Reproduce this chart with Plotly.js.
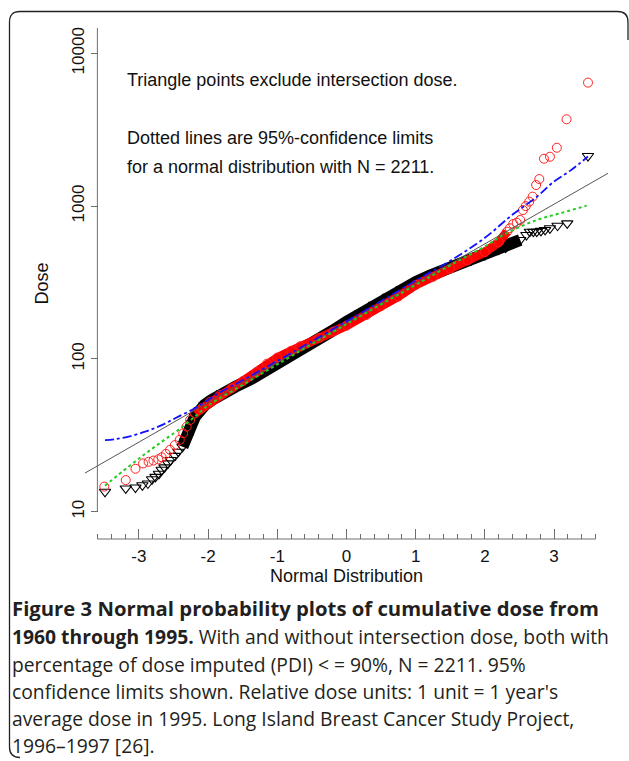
<!DOCTYPE html>
<html>
<head>
<meta charset="utf-8">
<script src="https://cdn.plot.ly/plotly-3.0.1.min.js"></script>
<style>
html,body{margin:0;padding:0;background:#fff;}
#chart{width:629px;height:761px;}
</style>
</head>
<body>
<div id="chart"></div>
<script>
// ---------- data ----------
// Normal quantiles (x) and dose (y), without intersection dose (triangles)
const blackZ = [-3.49,-3.19,-3.05,-2.95,-2.87,-2.81,-2.76,-2.71,-2.67,-2.63,-2.58,-2.54,-2.48,-2.43,-2.37,-2.33,-2.29,-2.26,-2.23,-2.19,-2.12,-2.05,-1.95,-1.8,-1.6,-1.4,-1.2,-1.0,-0.8,-0.6,-0.4,-0.2,0,0.2,0.4,0.6,0.8,1.0,1.2,1.4,1.6,1.8,2.0,2.2,2.3,2.41,2.51,2.6,2.65,2.70,2.75,2.81,2.87,2.94,3.05,3.19,3.49];
const blackDose = [13.5,14.2,14.4,14.9,15.3,16.3,16.9,17.7,18.8,19.5,20.7,21.8,23.2,24.7,26.6,28.7,31.0,34.3,37.9,41.9,46.3,49.9,53.8,59.6,66,73,82,93,105,118,134,153,175,199,226,255,286,318,350,380,410,442,478,520,535,571,600,647,680,680,680,688,698,716,744,771,2128];
// With intersection dose (circles)
const redZ = [-3.50,-3.19,-3.05,-2.94,-2.86,-2.79,-2.72,-2.67,-2.61,-2.55,-2.48,-2.41,-2.36,-2.31,-2.26,-2.19,-2.09,-1.97,-1.83,-1.66,-1.5,-1.3,-1.15,-1.0,-0.8,-0.67,-0.4,-0.19,0,0.29,0.5,0.75,1.0,1.25,1.5,1.75,2.0,2.2,2.32,2.36,2.41,2.46,2.51,2.55,2.59,2.64,2.69,2.74,2.786,2.854,2.94,3.04,3.18,3.49];
const redDose = [14.6,16.1,19.1,20.7,21.2,21.6,22.0,22.7,23.9,25.4,27.3,29.5,32.6,36.0,39.8,44.0,47.5,52.5,58.0,64.2,71.5,82,93,102,113,121,137,151,165,194,222,256,305,345,390,440,500,580,680,716,764,778,811,942,1000,1069,1153,1374,1503,2042,2105,2410,3700,6430];
// 95% confidence limits
const upperZ = [-3.49,-3.35,-3.15,-2.91,-2.67,-2.43,-2.19,-2.0,-1.85,-1.5,-1.0,0,1.0,1.54,2.0,2.4,2.75,3.0,3.23,3.49];
const upperDose = [29.4,29.8,31,33.4,36.9,41.9,47.5,53.8,59.6,72.5,97,176,325,450,620,880,1150,1450,1700,2110];
const lowerZ = [-3.49,-3.15,-2.91,-2.67,-2.43,-2.19,-2.0,-1.5,-1.0,0,1.0,1.5,2.0,2.315,2.75,3.1,3.47];
const lowerDose = [14.8,19.7,23.9,28.7,34.3,41.9,49.5,67.5,92,169,305,410,545,664,811,900,1007];
// reference line (ends of the fitted normal line)
const refZ = [-3.779, 3.779];
const refDose = [17.9, 1640];
// axis ticks
const xTicks = [-3,-2,-1,0,1,2,3];
const xTickText = ["-3","-2","-1","0","1","2","3"];
const yTicks = [10,100,1000,10000];
const yTickText = ["10","100","1000","10000"];
// which points form the dense (overplotted) band
const blackBand = [14, 47];
const redBand = [15, 39];

// ---------- layout geometry ----------
const W = 629, H = 761, ML = 85, MR = 21, MT = 28, MB = 222;
const PW = W - ML - MR, PH = H - MT - MB;
const px = X => (X - ML) / PW;
const py = Y => (H - MB - Y) / PH;
const yRange = [0.8213, 4.1656];
const FONT = '"Liberation Sans", Arial, sans-serif';
const CAP = '"Open Sans", sans-serif';
const axisCol = '#6e6e6e';

const traces = [
  {x: blackZ.slice(blackBand[0], blackBand[1]), y: blackDose.slice(blackBand[0], blackBand[1]), mode: 'lines', line: {color: '#000', width: 12}, hoverinfo: 'skip'},
  {x: blackZ, y: blackDose, mode: 'markers', marker: {symbol: 'triangle-down-open', size: 10, color: '#000', line: {width: 1.1, color: '#000'}}},
  {x: redZ.slice(redBand[0], redBand[1]), y: redDose.slice(redBand[0], redBand[1]), mode: 'lines', line: {color: '#ff0000', width: 9}, hoverinfo: 'skip'},
  {x: redZ, y: redDose, mode: 'markers', marker: {symbol: 'circle-open', size: 9, color: '#ff2020', line: {width: 1, color: '#ff2020'}}},
  {x: refZ, y: refDose, mode: 'lines', line: {color: '#555', width: 1}},
  {x: lowerZ, y: lowerDose, mode: 'lines', line: {color: '#22cc22', width: 2, dash: 'dot', shape: 'spline'}},
  {x: upperZ, y: upperDose, mode: 'lines', line: {color: '#1010ff', width: 1.8, dash: 'dashdot', shape: 'spline'}}
];

const caption = [
  '<b>Figure 3 Normal probability plots of cumulative dose from</b>',
  '<b>1960 through 1995.</b> With and without intersection dose, both with',
  'percentage of dose imputed (PDI) &lt; = 90%, N = 2211. 95%',
  'confidence limits shown. Relative dose units: 1 unit = 1 year\'s',
  'average dose in 1995. Long Island Breast Cancer Study Project,',
  '1996–1997 [26].'
];
const capY = [608, 636, 664, 691, 718, 745];
const capSize = [20.3, 19.3, 19.3, 19.3, 19.3, 19.3];

const annotations = [
  {text: 'Triangle points exclude intersection dose.', x: px(125), y: py(80)},
  {text: 'Dotted lines are 95%-confidence limits', x: px(125), y: py(138)},
  {text: 'for a normal distribution with N = 2211.', x: px(125), y: py(167)}
].map(a => Object.assign(a, {xref: 'paper', yref: 'paper', xanchor: 'left', yanchor: 'middle', showarrow: false, font: {family: FONT, size: 18, color: '#111'}}));
caption.forEach((t, i) => annotations.push({text: t, x: px(10), y: py(capY[i]), xref: 'paper', yref: 'paper', xanchor: 'left', yanchor: 'middle', showarrow: false, font: {family: CAP, size: capSize[i], color: '#231f20'}}));

function pth(pts) { return pts.map(p => p[0] + ' ' + px(p[1]).toFixed(5) + ',' + py(p[2]).toFixed(5)).join(' '); }
const border = pth([['M',628,40],['L',628,22],['Q',628,11.5],['',617.5,11.5],['L',20,11.5],['Q',9.5,11.5],['',9.5,22],['L',9.5,747],['Q',9.5,757.5],['',20,757.5]]);

const layout = {
  width: W, height: H,
  margin: {l: ML, r: MR, t: MT, b: MB, pad: 0},
  paper_bgcolor: '#fff', plot_bgcolor: '#fff',
  showlegend: false,
  font: {family: FONT, color: '#111'},
  xaxis: {
    range: [refZ[0], refZ[1]], showgrid: false, zeroline: false, showline: false,
    ticks: 'inside', ticklen: 10, tickwidth: 1, tickcolor: axisCol,
    tickmode: 'array', tickvals: xTicks, ticktext: xTickText, ticklabelstandoff: 5,
    tickfont: {family: FONT, size: 17, color: '#111'},
    minor: {dtick: 0.2, tick0: 0, ticks: 'inside', ticklen: 5, tickwidth: 1, tickcolor: axisCol, showgrid: false},
    title: {text: 'Normal Distribution', font: {family: FONT, size: 18, color: '#111'}, standoff: 4},
    automargin: false
  },
  yaxis: {
    type: 'log', range: yRange, anchor: 'free', position: px(98),
    showgrid: false, zeroline: false, showline: false,
    ticks: 'outside', ticklen: 7, tickwidth: 1, tickcolor: axisCol,
    tickmode: 'array', tickvals: yTicks, ticktext: yTickText, tickangle: -90,
    tickfont: {family: FONT, size: 17, color: '#111'},
    title: {text: 'Dose', font: {family: FONT, size: 18, color: '#111'}, standoff: 14},
    automargin: false
  },
  shapes: [
    {type: 'line', xref: 'x', yref: 'paper', x0: -3.6, x1: 3.6, y0: 0, y1: 0, line: {color: axisCol, width: 1}},
    {type: 'line', xref: 'x', yref: 'paper', x0: -3.6, x1: -3.6, y0: (1 - yRange[0]) / (yRange[1] - yRange[0]), y1: 1, line: {color: axisCol, width: 1}},
    {type: 'path', xref: 'paper', yref: 'paper', path: border, line: {color: '#222', width: 1.3}}
  ],
  annotations: annotations
};

Plotly.newPlot('chart', traces, layout, {displayModeBar: false, staticPlot: true});
</script>
</body>
</html>
